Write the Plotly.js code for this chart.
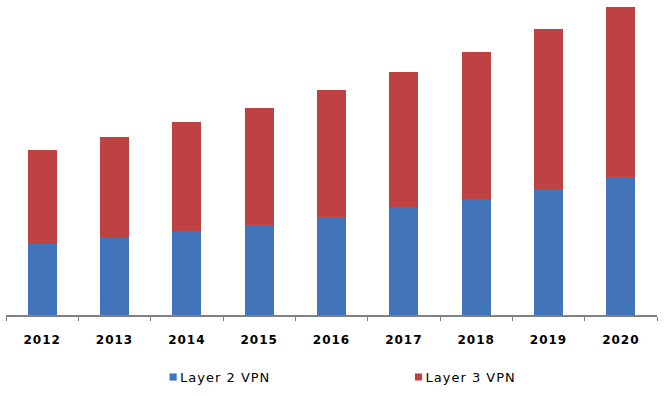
<!DOCTYPE html>
<html>
<head>
<meta charset="utf-8">
<script src="https://cdn.plot.ly/plotly-3.0.1.min.js"></script>
<style>
html,body{margin:0;padding:0;background:#fff;}
#chart{width:666px;height:396px;}
.legendtext, g.legend text, g.legend2 text{letter-spacing:1px;}
.xtick text{letter-spacing:1px;}
.legendpoints path{transform:translate(33px,0px) scale(0.6);}
</style>
</head>
<body>
<div id="chart"></div>
<script>
const years = ['2012','2013','2014','2015','2016','2017','2018','2019','2020'];
const layer2 = [71, 77, 84, 90, 98, 108, 116, 126, 138];
const layer3 = [94, 101, 109, 117, 127, 135, 147, 160, 170];

const traces = [
  {type:'bar', name:'Layer 2 VPN', x:years, y:layer2, marker:{color:'#4174B9'}, legend:'legend', hoverinfo:'x+y'},
  {type:'bar', name:'Layer 3 VPN', x:years, y:layer3, marker:{color:'#BD4241'}, legend:'legend2', hoverinfo:'x+y'}
];

const legendFont = {family:'DejaVu Sans, Verdana, sans-serif', size:13, color:'#000'};
const layout = {
  width:666, height:396,
  margin:{l:6, r:9, t:0, b:81, pad:0},
  paper_bgcolor:'#fff', plot_bgcolor:'#fff',
  barmode:'stack', bargap:0.6,
  showlegend:true,
  xaxis:{
    type:'category', showline:true, linecolor:'#808080', linewidth:2,
    ticks:'outside', tickson:'boundaries', ticklen:4, tickcolor:'#808080', tickwidth:1,
    ticklabelstandoff:13,
    tickfont:{family:'DejaVu Sans, Verdana, sans-serif', size:12, color:'#000', weight:'bold'},
    showgrid:false, zeroline:false, fixedrange:true
  },
  yaxis:{range:[0,315], visible:false, showgrid:false, zeroline:false, fixedrange:true},
  legend:{orientation:'h', x:0.206, xanchor:'left', y:-0.197, yanchor:'middle', font:legendFont, bgcolor:'rgba(0,0,0,0)', entrywidth:120, entrywidthmode:'pixels'},
  legend2:{orientation:'h', x:0.583, xanchor:'left', y:-0.197, yanchor:'middle', font:legendFont, bgcolor:'rgba(0,0,0,0)', entrywidth:120, entrywidthmode:'pixels'}
};
Plotly.newPlot('chart', traces, layout, {displayModeBar:false, staticPlot:true});
</script>
</body>
</html>
